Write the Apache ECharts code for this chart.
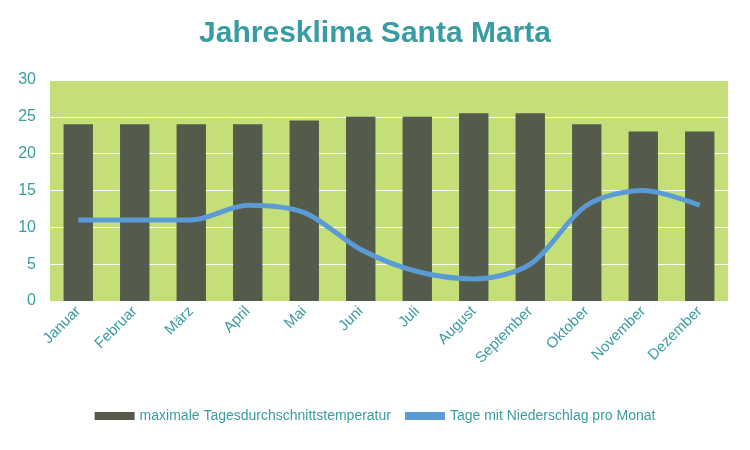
<!DOCTYPE html>
<html><head><meta charset="utf-8">
<script src="https://cdn.jsdelivr.net/npm/echarts@6/dist/echarts.min.js"></script>
<style>html,body{margin:0;padding:0;background:#fff}#c{width:750px;height:450px}</style>
</head><body><div id="c"></div>
<script>
const categories=["Januar","Februar","März","April","Mai","Juni","Juli","August","September","Oktober","November","Dezember"];
const tempValues=[24,24,24,24,24.5,25,25,25.5,25.5,24,23,23];
const rainDays=[11,11,11,13,12,7,4,3,5,13,15,13];
const teal="#3a9ca3";
const chart=echarts.init(document.getElementById('c'));
chart.setOption({
  animation:false,
  title:{text:"Jahresklima Santa Marta",left:"center",top:14,textStyle:{color:teal,fontSize:30,fontWeight:"bold",fontFamily:"Liberation Sans"}},
  grid:{left:50,right:22,top:80,bottom:149,backgroundColor:"#c5df78",show:true,borderWidth:0},
  legend:{bottom:22,itemGap:14,textStyle:{color:teal,fontSize:14,fontFamily:"Liberation Sans"},
    data:[{name:"maximale Tagesdurchschnittstemperatur",icon:"rect",itemStyle:{color:"#545b4a"}},{name:"Tage mit Niederschlag pro Monat",icon:"rect"}],
    itemWidth:40,itemHeight:8},
  xAxis:{type:"category",data:categories,axisTick:{show:false},axisLine:{show:false},
    axisLabel:{rotate:45,color:teal,fontSize:15,fontFamily:"Liberation Sans",margin:8,interval:0}},
  yAxis:{type:"value",min:0,max:30,interval:5,axisLine:{show:false},axisTick:{show:false},
    axisLabel:{color:teal,fontSize:16,fontFamily:"Liberation Sans",margin:14},
    splitLine:{lineStyle:{color:"#ffffff",width:1}}},
  series:[
    {name:"maximale Tagesdurchschnittstemperatur",type:"bar",data:tempValues,barWidth:"52%",itemStyle:{color:"#545b4a"}},
    {name:"Tage mit Niederschlag pro Monat",type:"line",data:rainDays,smooth:0.3,symbol:"none",lineStyle:{color:"#5b9bd5",width:5},itemStyle:{color:"#5b9bd5"}}
  ]
});
</script></body></html>
